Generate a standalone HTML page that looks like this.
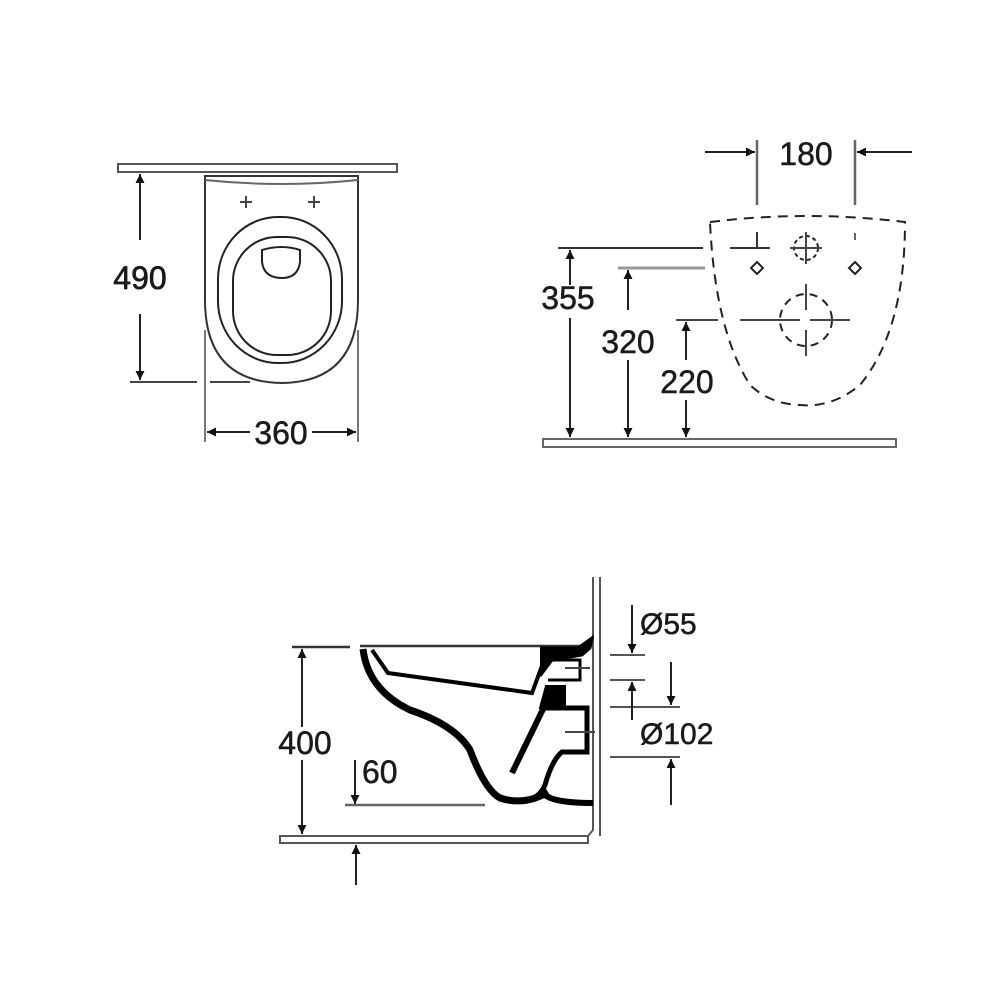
<!DOCTYPE html>
<html><head><meta charset="utf-8"><style>
html,body{margin:0;padding:0;background:#fff;}
svg{display:block}
text{font-family:"Liberation Sans",sans-serif;font-size:32px;fill:#1a1a1a;stroke:#1a1a1a;stroke-width:0.5px;}
</style></head><body>
<svg width="1000" height="1000" viewBox="0 0 1000 1000" xmlns="http://www.w3.org/2000/svg">
<defs>
<marker id="ar" viewBox="0 0 10 10" refX="10" refY="5" markerWidth="16" markerHeight="9" orient="auto" markerUnits="userSpaceOnUse"><path d="M0,0 L10,5 L0,10 Z" fill="#111"/></marker>
</defs>
<g fill="none" stroke="#222" stroke-width="2">
<!-- TOP LEFT -->
<rect x="118" y="164" width="279" height="8" fill="#fff" stroke="#555"/>
<path d="M205,176 L358,176 L358,300 Q358,382 282,383 Q205,382 205,300 Z" stroke="#333"/>
<path d="M205,180 Q282,188 358,180" stroke="#666"/>
<path d="M240,202h12M246,196v12M308,202h12M314,196v12" stroke="#444"/>
<rect x="218" y="217" width="124" height="146" rx="60" ry="62"/>
<rect x="233" y="237" width="98" height="118" rx="44" ry="44"/>
<path d="M262,250 Q282,244 300,250 L300,262 Q298,278 282,278 Q264,278 262,262 Z"/>
<line x1="140" y1="240" x2="140" y2="174" marker-end="url(#ar)"/>
<line x1="140" y1="314" x2="140" y2="380" marker-end="url(#ar)"/>
<path d="M130,382H197M210,382H250" stroke="#444"/>
<path d="M205,330V442M358,330V442" stroke="#777"/>
<line x1="250" y1="432" x2="207" y2="432" marker-end="url(#ar)"/>
<line x1="312" y1="432" x2="356" y2="432" marker-end="url(#ar)"/>
<!-- TOP RIGHT -->
<path d="M710,222 Q806,210 905,222 Q905,330 860,385 Q832,408 800,405 Q770,404 750,385 Q715,330 710,222 Z" stroke-dasharray="10,7"/>
<path d="M757,140V205M855,140V205" stroke="#666" stroke-width="2.5"/>
<line x1="705" y1="152" x2="755" y2="152" marker-end="url(#ar)"/>
<line x1="912" y1="152" x2="857" y2="152" marker-end="url(#ar)"/>
<path d="M757,233V240M855,233V240" stroke="#666"/>
<path d="M558,248H703M730,248H770M757,232V248" stroke="#333"/>
<path d="M618,268H705" stroke="#999" stroke-width="3"/>
<path d="M676,320H718M740,320H760M770,320H790M822,320H842M790,320H800M810,320H850" stroke="#444"/>
<path d="M757,262 L763,268 L757,274 L751,268 Z M855,262 L861,268 L855,274 L849,268 Z"/>
<circle cx="806" cy="248" r="12" stroke-dasharray="4,3"/>
<path d="M790,248h32M806,232v32" stroke="#444"/>
<circle cx="806" cy="320" r="26" stroke-dasharray="8,6"/>
<path d="M806,284v26M806,330v26M770,320h20M822,320h26M757,320h25" stroke="#444"/>
<rect x="543" y="439" width="353" height="8" fill="#fff" stroke="#666"/>
<line x1="570" y1="285" x2="570" y2="250" marker-end="url(#ar)"/>
<line x1="570" y1="318" x2="570" y2="437" marker-end="url(#ar)"/>
<line x1="628" y1="310" x2="628" y2="270" marker-end="url(#ar)"/>
<line x1="628" y1="360" x2="628" y2="437" marker-end="url(#ar)"/>
<line x1="686" y1="360" x2="686" y2="322" marker-end="url(#ar)"/>
<line x1="686" y1="400" x2="686" y2="437" marker-end="url(#ar)"/>
<!-- BOTTOM -->
<path d="M593,577V830L588,836M600,577V836" stroke="#555"/>
<rect x="280" y="836" width="308" height="7" fill="#fff" stroke="#555"/>
<path d="M292,647H350M360,646H585" stroke="#333" stroke-width="2.5"/>
<line x1="302" y1="727" x2="302" y2="649" marker-end="url(#ar)"/>
<line x1="302" y1="760" x2="302" y2="834" marker-end="url(#ar)"/>
<line x1="355" y1="760" x2="355" y2="804" marker-end="url(#ar)"/>
<path d="M345,805H485" stroke="#666" stroke-width="2.5"/>
<line x1="356" y1="885" x2="356" y2="845" marker-end="url(#ar)"/>
<path d="M363,649 Q368,690 410,710 Q455,725 470,750 Q485,790 500,798 Q525,806 548,792" stroke="#000" stroke-width="7"/>
<path d="M372,650 L388,673 L532,693 L547,652" stroke="#000" stroke-width="4"/>
<path d="M540,648 L578,648 L592,638 L590,648 L582,655 L552,660 L540,676" fill="#000" stroke="#000" stroke-width="3"/>
<path d="M552,660 H580 V680 H548" stroke="#000" stroke-width="3"/>
<path d="M546,686 H565 V708 H540 Z" fill="#000" stroke="#000"/>
<path d="M540,708 H587 V752 H562 Q552,760 545,785 Q540,797 528,800" stroke="#000" stroke-width="5"/>
<path d="M512,773 L545,705" stroke="#000" stroke-width="6"/>
<path d="M545,795 Q555,803 593,803" stroke="#000" stroke-width="6"/>
<path d="M565,668H590M565,732H595" stroke="#444"/>
<line x1="632" y1="605" x2="632" y2="653" marker-end="url(#ar)"/>
<path d="M610,655H645M610,680H645M610,707H680M610,757H680" stroke="#555"/>
<line x1="632" y1="720" x2="632" y2="682" marker-end="url(#ar)"/>
<line x1="671" y1="662" x2="671" y2="705" marker-end="url(#ar)"/>
<line x1="671" y1="805" x2="671" y2="759" marker-end="url(#ar)"/>
</g>
<g>
<text x="140" y="289" text-anchor="middle" fill="#fff" stroke="#fff" stroke-width="6">490</text>
<text x="140" y="289" text-anchor="middle">490</text>
<text x="281" y="444" text-anchor="middle">360</text>
<text x="806" y="165" text-anchor="middle">180</text>
<text x="568" y="309" text-anchor="middle">355</text>
<text x="628" y="353" text-anchor="middle">320</text>
<text x="687" y="393" text-anchor="middle">220</text>
<text x="305" y="754" text-anchor="middle">400</text>
<text x="362" y="783">60</text>
<text x="640" y="634" style="font-size:30px">Ø55</text>
<text x="640" y="744" style="font-size:30px">Ø102</text>
</g>
</svg>
</body></html>
